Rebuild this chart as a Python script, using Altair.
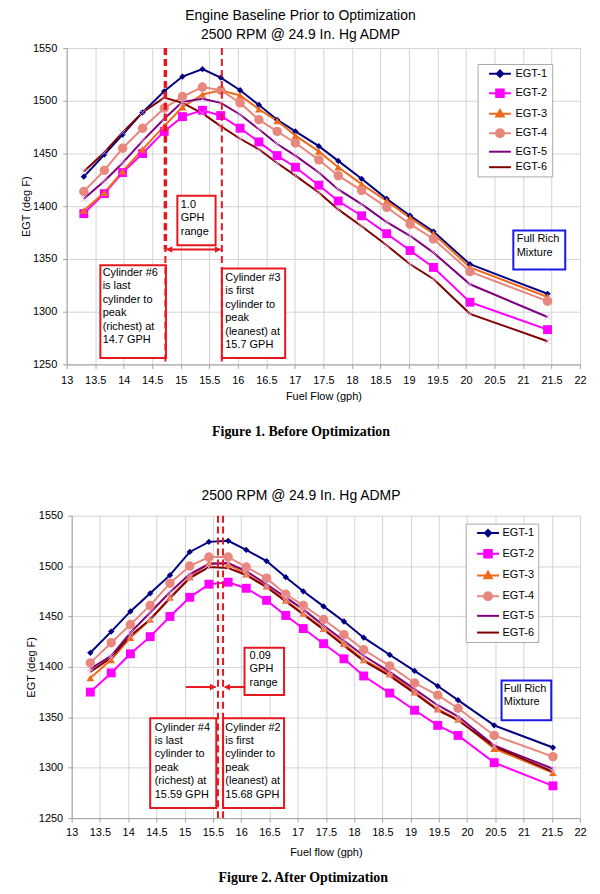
import altair as alt
import pandas as pd

# ---------------- data ----------------
SERIES = ["EGT-1", "EGT-2", "EGT-3", "EGT-4", "EGT-5", "EGT-6"]
COLORS = ["#000080", "#ff00ff", "#f06a1c", "#e8877e", "#800080", "#800000"]

X_TICKS = [13, 13.5, 14, 14.5, 15, 15.5, 16, 16.5, 17, 17.5, 18, 18.5, 19, 19.5,
           20, 20.5, 21, 21.5, 22]
Y_TICKS = [1250, 1300, 1350, 1400, 1450, 1500, 1550]

# Figure 1 - before optimization
flow_before = [13.30, 13.66, 13.98, 14.33, 14.71, 15.03, 15.38, 15.70, 16.04, 16.37,
               16.69, 17.01, 17.42, 17.76, 18.17, 18.61, 19.02, 19.43, 20.07, 21.43]
egt1_before = [1428, 1449, 1468, 1489, 1509, 1523, 1530, 1522, 1510, 1496,
               1482, 1471, 1457, 1443, 1426, 1407, 1391, 1376, 1345, 1317]
egt2_before = [1393, 1412, 1432, 1450, 1471, 1485, 1491, 1486, 1474, 1461,
               1448, 1437, 1420, 1405, 1391, 1374, 1358, 1342, 1309, 1283]
egt3_before = [1396, 1413, 1433, 1454, 1476, 1494, 1506, 1510, 1505, 1492,
               1481, 1467, 1452, 1437, 1421, 1405, 1389, 1374, 1342, 1314]
egt4_before = [1414, 1434, 1455, 1474, 1493, 1504, 1513, 1510, 1498, 1482,
               1471, 1460, 1444, 1429, 1415, 1399, 1383, 1369, 1338, 1310]
egt5_before = [1407, 1424, 1441, 1462, 1483, 1499, 1502, 1498, 1487, 1473,
               1459, 1448, 1432, 1416, 1402, 1385, 1372, 1356, 1326, 1295]
egt6_before = [1433, 1451, 1470, 1489, 1503, 1498, 1488, 1476, 1464, 1454,
               1441, 1429, 1413, 1397, 1381, 1363, 1345, 1331, 1298, 1272]

# Figure 2 - after optimization
flow_after = [13.33, 13.70, 14.04, 14.39, 14.74, 15.09, 15.43, 15.77, 16.09, 16.45,
              16.79, 17.10, 17.46, 17.82, 18.17, 18.63, 19.07, 19.48, 19.84, 20.48, 21.52]
egt1_after = [1414, 1435, 1455, 1473, 1491, 1514, 1524, 1525, 1516, 1505,
              1489, 1475, 1460, 1445, 1429, 1412, 1396, 1381, 1367, 1342, 1320]
egt2_after = [1375, 1394, 1413, 1430, 1450, 1469, 1482, 1484, 1478, 1466,
              1451, 1438, 1423, 1408, 1391, 1374, 1357, 1342, 1332, 1305, 1282]
egt3_after = [1389, 1407, 1429, 1447, 1469, 1489, 1503, 1502, 1492, 1480,
              1466, 1453, 1438, 1423, 1407, 1393, 1375, 1358, 1348, 1319, 1295]
egt4_after = [1404, 1424, 1442, 1461, 1483, 1500, 1509, 1509, 1499, 1488,
              1472, 1461, 1447, 1432, 1417, 1401, 1384, 1372, 1359, 1332, 1311]
egt5_after = [1398, 1411, 1434, 1454, 1474, 1492, 1502, 1503, 1495, 1482,
              1469, 1457, 1441, 1426, 1411, 1395, 1378, 1362, 1351, 1322, 1299]
egt6_after = [1395, 1409, 1431, 1447, 1468, 1488, 1499, 1498, 1491, 1479,
              1465, 1452, 1437, 1421, 1406, 1391, 1374, 1357, 1347, 1321, 1296]

# annotations (data units)
peaks_before = [14.73, 15.72]
peaks_after = [15.59, 15.68]

ANN_BEFORE = {
    "boxes": {"flow": [14.94, 13.59, 15.72], "flow2": [15.61, 14.74, 16.83],
              "egt": [1363, 1256, 1256], "egt2": [1410, 1344, 1341]},
    "rich_box": {"flow": [20.83], "flow2": [21.74], "egt": [1340], "egt2": [1377]},
    "texts": {"flow": [15.00, 13.63, 15.78, 20.89], "egt": [1407, 1342.5, 1337.7, 1374.5],
              "label": ["1.0\nGPH\nrange",
                        "Cylinder #6\nis last\ncylinder to\npeak\n(richest) at\n14.7 GPH",
                        "Cylinder #3\nis first\ncylinder to\npeak\n(leanest) at\n15.7 GPH",
                        "Full Rich\nMixture"]},
    "arrows": {"flow": [14.75], "flow2": [15.70], "egt": [1359]},
    "heads_left": {"flow": [14.80], "egt": [1359]},
    "heads_right": {"flow": [15.65], "egt": [1359]},
    "thick": {"flow": [14.73], "egt": [1550], "egt2": [1359]},
}
ANN_AFTER = {
    "boxes": {"flow": [16.06, 14.39, 15.68], "flow2": [16.76, 15.56, 16.76],
              "egt": [1372, 1260, 1260], "egt2": [1419, 1349, 1349]},
    "rich_box": {"flow": [20.61], "flow2": [21.49], "egt": [1347], "egt2": [1386.5]},
    "texts": {"flow": [16.15, 14.47, 15.72, 20.65], "egt": [1417, 1345.7, 1345.7, 1384.2],
              "label": ["0.09\nGPH\nrange",
                        "Cylinder #4\nis last\ncylinder to\npeak\n(richest) at\n15.59 GPH",
                        "Cylinder #2\nis first\ncylinder to\npeak\n(leanest) at\n15.68 GPH",
                        "Full Rich\nMixture"]},
    "arrows": {"flow": [15.02, 15.71], "flow2": [15.55, 16.06], "egt": [1380, 1380]},
    "heads_left": {"flow": [15.75], "egt": [1380]},
    "heads_right": {"flow": [15.50], "egt": [1380]},
    "thick": None,
}

# ---------------- styling ----------------
FONT = "Liberation Sans"
SERIF = "Liberation Serif"
RED = "#e8161e"
BLUE = "#1a1ae6"
CROSS_COLOR = "#e6a6e6"
MARKERS = [("EGT-1", "diamond", 40), ("EGT-2", "square", 80),
           ("EGT-3", "triangle-up", 60), ("EGT-4", "circle", 90)]


def to_long(flow, columns):
    frames = [pd.DataFrame({"series": name, "flow": flow, "egt": vals})
              for name, vals in zip(SERIES, columns)]
    return pd.concat(frames, ignore_index=True)


def legend_paths(shift_px, unit=4.0, half_line=11.0):
    c = shift_px / unit
    h = half_line / unit
    line = f"M{c - h:.2f},0L{c + h:.2f},0"
    out = []
    r = 0.8
    out.append(line + f"M{c:.2f},{-r}L{c + r:.2f},0L{c:.2f},{r}L{c - r:.2f},0Z")
    r = 0.95
    out.append(line + f"M{c - r:.2f},{-r}L{c + r:.2f},{-r}L{c + r:.2f},{r}L{c - r:.2f},{r}Z")
    out.append(line + f"M{c:.2f},{-r}L{c + r:.2f},{0.75 * r:.2f}L{c - r:.2f},{0.75 * r:.2f}Z")
    r = 1.0
    out.append(line + f"M{c - r:.2f},0A{r},{r} 0 1,0 {c + r:.2f},0A{r},{r} 0 1,0 {c - r:.2f},0Z")
    out.append(line)
    out.append(line)
    return out


def panel(df, peaks, ann, cfg):
    xs = alt.Scale(domain=[13, 22], nice=False, zero=False)
    ys = alt.Scale(domain=[1250, 1550], nice=False, zero=False)
    x_axis = alt.Axis(values=X_TICKS, format=".1~f", title=cfg["xtitle"], tickSize=4,
                      labelPadding=cfg["xlabpad"], titlePadding=cfg["xtitlepad"],
                      labelFlush=False, labelOverlap=False)
    y_axis = alt.Axis(values=Y_TICKS, format="d", title="EGT (deg F)", tickSize=4,
                      labelPadding=cfg["ylabpad"],
                      minExtent=cfg["yext"], maxExtent=cfg["yext"],
                      titlePadding=cfg["ytitlepad"])
    X = alt.X("flow:Q", scale=xs, axis=x_axis)
    X2 = alt.X2("flow2:Q")
    Y = alt.Y("egt:Q", scale=ys, axis=y_axis)
    Y2 = alt.Y2("egt2:Q")

    legend = alt.Legend(
        title=None, orient="none", legendX=cfg["lx"], legendY=cfg["ly"],
        padding=cfg["lpad"], rowPadding=cfg["lrow"], symbolSize=64,
        symbolStrokeWidth=2, symbolOpacity=1,
        labelOffset=cfg["loff"], labelFont=FONT, labelFontSize=11, labelColor="#000",
        labelExpr="datum.label + '" + " " * cfg["lspaces"] + "'",
        strokeColor="#a8a8a8", fillColor="white",
    )
    cscale = alt.Scale(domain=SERIES, range=COLORS)

    base = alt.Chart(df)
    layers = []
    for name, col in zip(SERIES, COLORS):
        layers.append(base.transform_filter(alt.datum.series == name).mark_line(
            strokeWidth=2, color=col).encode(x=X, y=Y, order="flow:Q"))
    for (name, shp, size), col in zip(MARKERS, COLORS):
        layers.append(base.transform_filter(alt.datum.series == name).mark_point(
            shape=shp, filled=True, color=col, size=size, opacity=1).encode(x=X, y=Y))
    layers.append(base.transform_filter(
        alt.FieldOneOfPredicate(field="series", oneOf=SERIES[4:])
    ).mark_point(shape="M-1,-1L1,1M-1,1L1,-1", filled=False, color=CROSS_COLOR,
                 size=36, strokeWidth=1, opacity=0.8).encode(x=X, y=Y))
    # legend carrier (draws no visible points)
    layers.append(base.transform_filter(alt.datum.flow < 0).mark_point(
        filled=True, opacity=1).encode(
        x=X, y=Y,
        color=alt.Color("series:N", scale=cscale, legend=legend),
        stroke=alt.Stroke("series:N", scale=cscale, legend=legend),
        shape=alt.Shape("series:N",
                        scale=alt.Scale(domain=SERIES, range=legend_paths(cfg["lshift"])),
                        legend=legend),
    ))

    layers.append(alt.Chart(pd.DataFrame(ann["boxes"])).mark_rect(
        fill="white", stroke=RED, strokeWidth=2).encode(x=X, x2=X2, y=Y, y2=Y2))
    layers.append(alt.Chart(pd.DataFrame(ann["rich_box"])).mark_rect(
        fill="white", stroke=BLUE, strokeWidth=2).encode(x=X, x2=X2, y=Y, y2=Y2))
    pk = pd.DataFrame({"flow": peaks})
    layers.append(alt.Chart(pk).mark_rule(
        color=RED, strokeWidth=2, strokeDash=[7, 4]).encode(x=X))
    if ann["thick"] is not None:
        layers.append(alt.Chart(pd.DataFrame(ann["thick"])).mark_rule(
            color=RED, strokeWidth=3.5, strokeDash=[7, 4]).encode(x=X, y=Y, y2=Y2))
    layers.append(alt.Chart(pd.DataFrame(ann["arrows"])).mark_rule(
        color=RED, strokeWidth=2).encode(x=X, x2=X2, y=Y))
    layers.append(alt.Chart(pd.DataFrame(ann["heads_left"])).mark_point(
        shape="triangle-left", filled=True, color=RED, size=45, opacity=1).encode(x=X, y=Y))
    layers.append(alt.Chart(pd.DataFrame(ann["heads_right"])).mark_point(
        shape="triangle-right", filled=True, color=RED, size=45, opacity=1).encode(x=X, y=Y))
    layers.append(alt.Chart(pd.DataFrame(ann["texts"])).mark_text(
        align="left", baseline="top", lineBreak="\n", lineHeight=13.5,
        font=FONT, fontSize=11, color="#000").encode(x=X, y=Y, text="label:N"))

    return alt.layer(*layers)


df_before = to_long(flow_before, [egt1_before, egt2_before, egt3_before,
                                  egt4_before, egt5_before, egt6_before])
df_after = to_long(flow_after, [egt1_after, egt2_after, egt3_after,
                                egt4_after, egt5_after, egt6_after])

p1 = panel(df_before, peaks_before, ANN_BEFORE, dict(
    xtitle="Fuel Flow (gph)", xlabpad=6, xtitlepad=5, yext=34, ylabpad=6, ytitlepad=1.5,
    lx=413, ly=16, lpad=4.25, lrow=3.6, loff=22.75, lshift=12.75, lspaces=1,
)).properties(
    width=516, height=318,
    title=alt.TitleParams(
        text="Engine Baseline Prior to Optimization",
        subtitle="2500 RPM @ 24.9 In. Hg ADMP",
        font=FONT, fontSize=14, fontWeight="normal", color="#000",
        subtitleFont=FONT, subtitleFontSize=14, subtitleColor="#000",
        subtitlePadding=5, offset=0, anchor="middle", dx=-23),
)

p2 = panel(df_after, peaks_after, ANN_AFTER, dict(
    xtitle="Fuel flow (gph)", xlabpad=4.5, xtitlepad=9.5, yext=32.5, ylabpad=5, ytitlepad=2.5,
    lx=396, ly=8, lpad=4, lrow=4.8, loff=22, lshift=13, lspaces=2,
)).properties(
    width=511, height=304,
    title=alt.TitleParams(
        text="Figure 1. Before Optimization",
        subtitle="2500 RPM @ 24.9 In. Hg ADMP",
        font=SERIF, fontSize=14, fontWeight="bold", color="#000",
        subtitleFont=FONT, subtitleFontSize=14, subtitleColor="#000",
        subtitlePadding=50, offset=7, anchor="middle", dx=-25),
)

spacer = alt.Chart(pd.DataFrame({"v": [0]})).mark_point(opacity=0).properties(width=5, height=304)
row2 = alt.hconcat(spacer, p2, spacing=0, bounds="flush").resolve_scale(
    color="independent", stroke="independent", shape="independent"
).resolve_legend(color="independent", stroke="independent", shape="independent")

chart = alt.vconcat(
    p1, row2, spacing=152, bounds="flush",
    title=alt.TitleParams(text="Figure 2. After Optimization", orient="bottom",
                          font=SERIF, fontSize=14, fontWeight="bold", color="#000",
                          offset=13, anchor="middle"),
).resolve_scale(
    color="independent", stroke="independent", shape="independent"
).resolve_legend(
    color="independent", stroke="independent", shape="independent"
).properties(
    padding={"left": 12, "top": -1, "right": 5, "bottom": 5}
).configure_view(stroke=None).configure_axis(
    labelFont=FONT, labelFontSize=11, labelColor="#000",
    titleFont=FONT, titleFontSize=11, titleFontWeight="normal", titleColor="#000",
    gridColor="#d4d4d4", domainColor="#a0a0a0", tickColor="#a0a0a0",
)

chart.save("out.html", embed_options={"renderer": "svg", "actions": False})
